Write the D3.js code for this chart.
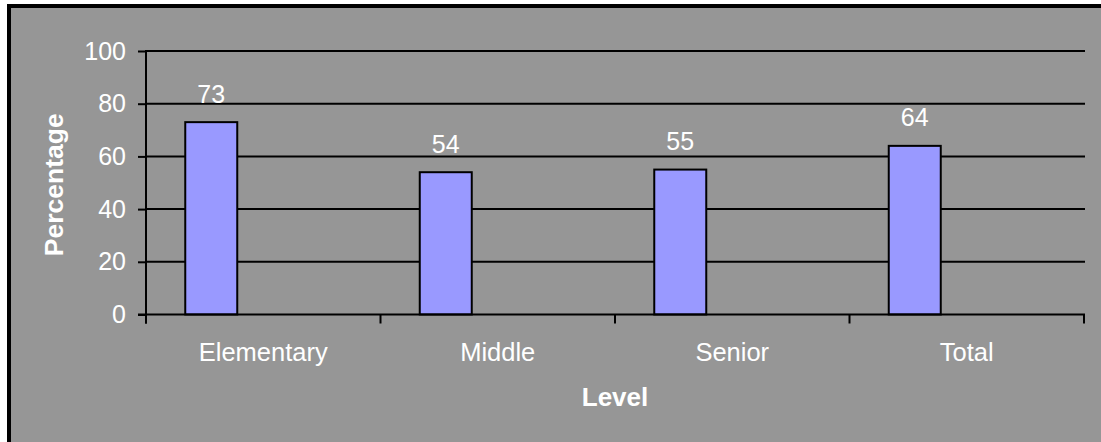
<!DOCTYPE html>
<html>
<head>
<meta charset="utf-8">
<script src="https://cdn.jsdelivr.net/npm/d3@7"></script>
<style>
  html, body { margin: 0; padding: 0; background: #ffffff; }
  svg { display: block; }
  text { font-family: "Liberation Sans", Arial, Helvetica, sans-serif; fill: #ffffff; }
</style>
</head>
<body>
<svg id="chart" width="1101" height="442"></svg>
<script>
// Share of students by school level
const categories = ["Elementary", "Middle", "Senior", "Total"];
const values = [73, 54, 55, 64];
const yTicks = [0, 20, 40, 60, 80, 100];
const xTitle = "Level";
const yTitle = "Percentage";

const svg = d3.select("#chart");
const W = 1101, H = 442;
const plot = { left: 146, right: 1084, top: 51, bottom: 314.5 };

// Chart frame
svg.append("rect")
  .attr("x", 9).attr("y", 6)
  .attr("width", W + 20).attr("height", H + 20)
  .attr("fill", "#969696")
  .attr("stroke", "#000").attr("stroke-width", 4);

const x = d3.scaleBand().domain(categories).range([plot.left, plot.right]).padding(0);
const y = d3.scaleLinear().domain([0, 100]).range([plot.bottom, plot.top]);

// Each category holds a three-slot cluster; the series occupies the first slot
const slot = d3.scaleBand().domain([0, 1, 2]).range([0, x.bandwidth()])
  .paddingInner(0).paddingOuter(0.755);

// Horizontal gridlines
svg.append("g").selectAll("line")
  .data(yTicks.filter(t => t > 0))
  .join("line")
  .attr("x1", plot.left).attr("x2", plot.right + 1)
  .attr("y1", d => y(d)).attr("y2", d => y(d))
  .attr("stroke", "#000").attr("stroke-width", 2);

// Y axis
const yAxis = svg.append("g")
  .attr("transform", `translate(${plot.left},0)`)
  .call(d3.axisLeft(y).tickValues(yTicks).tickSize(8).tickPadding(12));
yAxis.select(".domain").remove();
yAxis.selectAll(".tick line").attr("stroke", "#000").attr("stroke-width", 2);
yAxis.selectAll(".tick text")
  .attr("fill", "#fff")
  .style("font-size", "25px")
  .style("font-family", '"Liberation Sans", Arial, sans-serif');
yAxis.append("line")
  .attr("x1", 0).attr("x2", 0)
  .attr("y1", plot.top - 1).attr("y2", plot.bottom + 9)
  .attr("stroke", "#000").attr("stroke-width", 2);

// Bars
svg.append("g").selectAll("rect")
  .data(categories.map((c, i) => ({ c, v: values[i] })))
  .join("rect")
  .attr("x", d => x(d.c) + slot(0))
  .attr("y", d => y(d.v))
  .attr("width", slot.bandwidth())
  .attr("height", d => y(0) - y(d.v))
  .attr("fill", "#9999FF")
  .attr("stroke", "#000").attr("stroke-width", 2);

// X axis line and category boundary ticks
const xAxis = svg.append("g");
xAxis.append("line")
  .attr("x1", plot.left - 8).attr("x2", plot.right + 1)
  .attr("y1", y(0)).attr("y2", y(0))
  .attr("stroke", "#000").attr("stroke-width", 2);
const bounds = categories.map(c => x(c)).concat([x.range()[1]]);
xAxis.selectAll("line.tick")
  .data(bounds)
  .join("line").attr("class", "tick")
  .attr("x1", d => d).attr("x2", d => d)
  .attr("y1", y(0)).attr("y2", y(0) + 9)
  .attr("stroke", "#000").attr("stroke-width", 2);
xAxis.selectAll("text")
  .data(categories)
  .join("text")
  .attr("x", d => x(d) + x.bandwidth() / 2)
  .attr("y", 361)
  .attr("text-anchor", "middle")
  .style("font-size", "25.5px")
  .text(d => d);

// Value labels
svg.append("g").selectAll("text")
  .data(categories.map((c, i) => ({ c, v: values[i] })))
  .join("text")
  .attr("x", d => x(d.c) + slot(0) + slot.bandwidth() / 2)
  .attr("y", d => y(d.v) - 19.5)
  .attr("text-anchor", "middle")
  .style("font-size", "25px")
  .text(d => d.v);

// Axis titles
svg.append("text")
  .attr("x", (plot.left + plot.right) / 2)
  .attr("y", 406)
  .attr("text-anchor", "middle")
  .style("font-size", "26px").style("font-weight", "bold")
  .text(xTitle);

svg.append("text")
  .attr("transform", `translate(63,${(plot.top + plot.bottom) / 2 + 2}) rotate(-90)`)
  .attr("text-anchor", "middle")
  .style("font-size", "26.5px").style("font-weight", "bold")
  .text(yTitle);
</script>
</body>
</html>
